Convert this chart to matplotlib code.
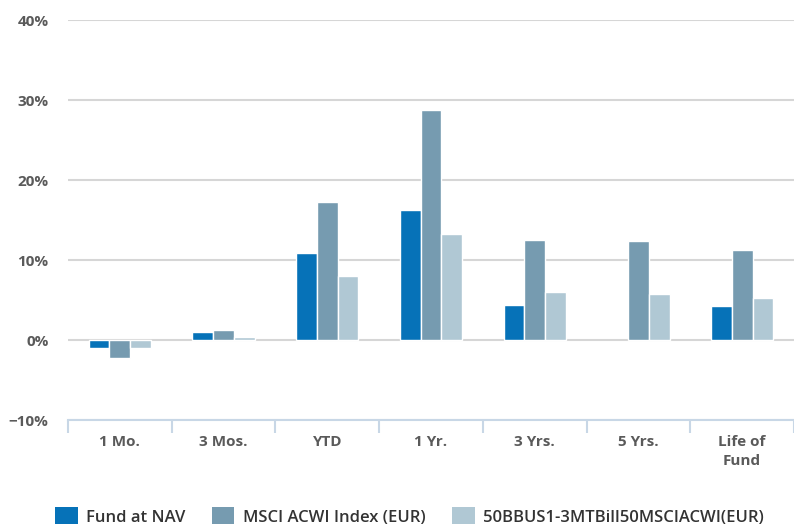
import numpy as np
from matplotlib import pyplot as plt
from matplotlib.patches import Patch

# chart data
categories = ['1 Mo.', '3 Mos.', 'YTD', '1 Yr.', '3 Yrs.', '5 Yrs.', 'Life of\nFund']
fund_nav = [-1.0, 1.0, 10.9, 16.3, 4.4, np.nan, 4.2]
msci_acwi = [-2.3, 1.2, 17.2, 28.7, 12.5, 12.4, 11.2]
blend_idx = [-1.0, 0.4, 8.0, 13.3, 6.0, 5.8, 5.3]
series_names = ['Fund at NAV', 'MSCI ACWI Index (EUR)', '50BBUS1-3MTBill50MSCIACWI(EUR)']
yticks = [-10, 0, 10, 20, 30, 40]

colors = ['#0672b8', '#769bb0', '#b0c8d4']

plt.rcParams['font.family'] = ['Open Sans', 'DejaVu Sans']

fig = plt.figure(figsize=(7.94, 5.27), dpi=100)
ax = fig.add_axes([68/794, (527-420)/527, 1 - 68/794, (420-20)/527])

x = np.arange(len(categories))
w = 0.2
for i, vals in enumerate([fund_nav, msci_acwi, blend_idx]):
    ax.bar(x + (i - 1) * w, vals, w, color=colors[i], edgecolor='white',
           linewidth=1.0, zorder=3)

ax.set_xlim(-0.5, len(categories) - 0.5)
ax.set_ylim(-10, 40)
ax.set_yticks(yticks)
ax.set_yticklabels(['\u221210%' if t < 0 else '%d%%' % t for t in yticks])
ax.yaxis.grid(True, color='#d6d6d6', linewidth=1.5, zorder=0)
ax.set_axisbelow(True)

for s in ['top', 'right', 'left']:
    ax.spines[s].set_visible(False)
ax.spines['bottom'].set_color('#c8d7e6')
ax.spines['bottom'].set_linewidth(1.5)

ax.set_xticks(x)
ax.set_xticklabels(categories)
ax.set_xticks(np.arange(-0.5, len(categories)), minor=True)
ax.tick_params(axis='x', which='major', length=0, pad=11, labelsize=11,
               labelcolor='#5a5a5a')
ax.tick_params(axis='x', which='minor', length=9, width=1.5, color='#c8d7e6')
ax.tick_params(axis='y', length=0, pad=14, labelsize=11, labelcolor='#5a5a5a')
for lab in ax.get_xticklabels() + ax.get_yticklabels():
    lab.set_fontweight('bold')
    lab.set_linespacing(1.45)

handles = [Patch(facecolor=c, edgecolor='none') for c in colors]
leg = fig.legend(handles, series_names, loc='center left',
                 bbox_to_anchor=(55/794, 0.02), ncol=3, frameon=False,
                 borderpad=0, borderaxespad=0, handlelength=1.35, handleheight=1.2,
                 handletextpad=0.5, columnspacing=1.6,
                 prop={'size': 12, 'weight': 'semibold'})
for t in leg.get_texts():
    t.set_color('#333333')

fig.savefig('out.png', dpi=100)
